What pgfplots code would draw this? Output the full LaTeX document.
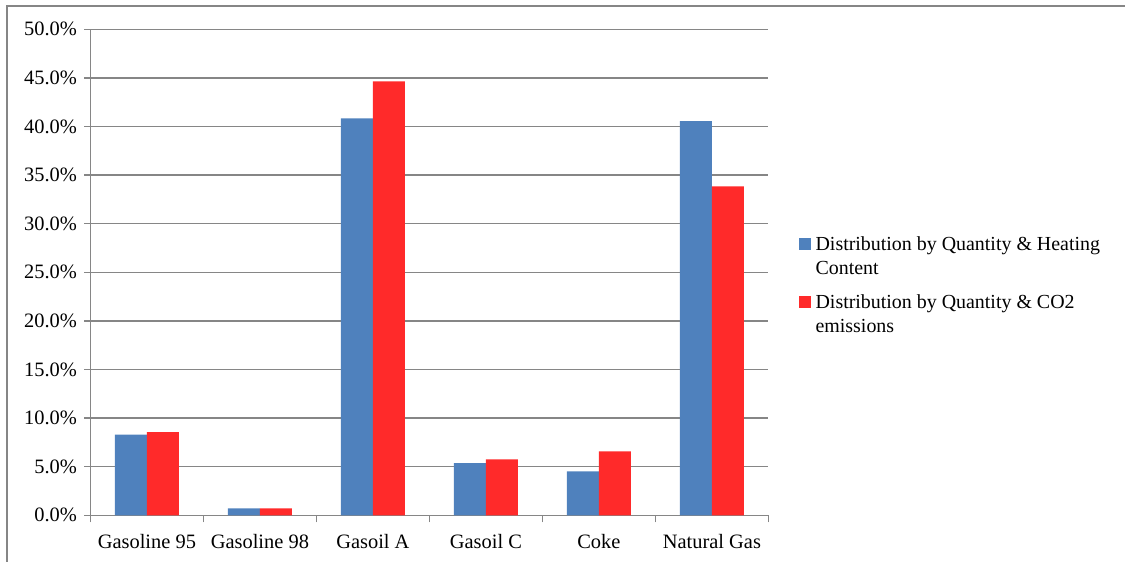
\documentclass[border=0pt]{standalone}
\usepackage{pgfplots}
\pgfplotsset{compat=1.18}
\usepackage{fontspec}
\setmainfont{Liberation Serif}
\definecolor{barblue}{HTML}{4F81BD}
\definecolor{barred}{HTML}{FF2A2A}
\definecolor{axgray}{HTML}{868686}
\begin{document}
\begin{tikzpicture}[x=1bp,y=1bp]
\useasboundingbox (0,0) rectangle (1125,562);
\draw[axgray,line width=2bp] (7,0) -- (7,556) -- (1125,556);
\begin{axis}[
  at={(80,48)}, anchor=south west,
  width=678bp, height=486bp, scale only axis,
  xmin=-0.5, xmax=5.5, ymin=0, ymax=50,
  axis x line*=bottom, axis y line*=left,
  axis line style={draw=axgray, line width=1.3bp, -},
  xtick={0,1,2,3,4,5},
  xticklabels={Gasoline 95,Gasoline 98,Gasoil A,Gasoil C,Coke,Natural Gas},
  major x tick style={draw=none},
  minor xtick={-0.5,0.5,1.5,2.5,3.5,4.5,5.5},
  minor x tick style={draw=axgray, line width=1.3bp},
  minor tick length=7bp,
  ytick={0,5,...,50},
  tick align=outside,
  major tick length=6bp,
  major y tick style={draw=axgray, line width=1.3bp},
  ymajorgrids, grid style={draw=axgray, line width=1.3bp},
  yticklabel={\pgfmathprintnumber[fixed,fixed zerofill,precision=1]{\tick}\%},
  /pgf/number format/assume math mode=true,
  tick label style={font=\fontsize{20.5}{24}\selectfont},
  xticklabel style={yshift=-9bp},
  yticklabel style={xshift=-4bp},
  ybar=0pt, bar width=0.283,
  legend style={at={(1.0,0.5)}, anchor=west, xshift=27bp, yshift=-13bp,
    draw=none, fill=none,
    font=\fontsize{20}{24}\selectfont, row sep=17bp, column sep=4bp,
    nodes={align=left, inner sep=1bp}},
  legend cell align=left,
  legend image code/.code={\fill[#1] (0bp,6bp) rectangle (12bp,18bp);},
]
\addplot[fill=barblue, draw=none, bar shift=-0.1415] coordinates {
 (0,8.3) (1,0.72) (2,40.85) (3,5.38) (4,4.52) (5,40.55)};
\addplot[fill=barred, draw=none, bar shift=0.1415] coordinates {
 (0,8.57) (1,0.72) (2,44.65) (3,5.76) (4,6.58) (5,33.85)};
\legend{Distribution by Quantity \& Heating\\Content, Distribution by Quantity \& CO2\\emissions}
\end{axis}
\end{tikzpicture}
\end{document}
